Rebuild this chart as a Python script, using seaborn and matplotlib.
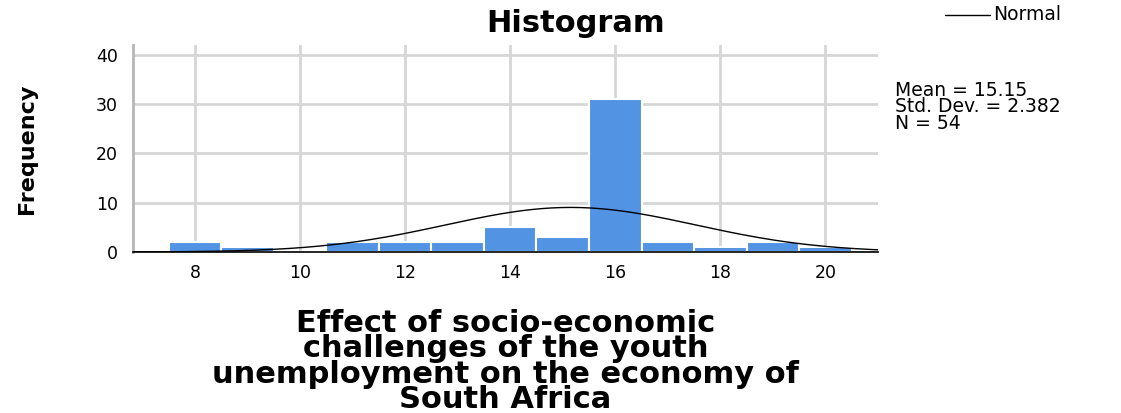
import numpy as np
import pandas as pd
import matplotlib
matplotlib.use("Agg")
import matplotlib.pyplot as plt
import seaborn as sns

# Data
bin_centers = [8, 9, 10, 11, 12, 13, 14, 15, 16, 17, 18, 19, 20]
counts = [2, 1, 0, 2, 2, 2, 5, 3, 31, 2, 1, 2, 1]
x_ticks = [8, 10, 12, 14, 16, 18, 20]
y_ticks = [0, 10, 20, 30, 40]
mean_val = 15.15
sd_val = 2.382
n_val = 54

title = "Histogram"
xlabel = "Effect of socio-economic\nchallenges of the youth\nunemployment on the economy of\nSouth Africa"
ylabel = "Frequency"
stats_lines = ["Mean = 15.15", "Std. Dev. = 2.382", "N = 54"]

sns.set_theme(style="white")
plt.rcParams['font.family'] = ['DejaVu Sans']
plt.rcParams['text.color'] = 'black'

fig = plt.figure(figsize=(11.21, 4.13), dpi=100)
ax = fig.add_axes([133 / 1121, 1 - 252 / 413, (878 - 133) / 1121, (252 - 45) / 413])

df = pd.DataFrame({"x": bin_centers, "w": counts})
sns.histplot(data=df, x="x", weights="w", discrete=True, ax=ax,
             color="#5393E3", alpha=1.0, edgecolor="white", linewidth=1.5, zorder=2)

# Normal curve from the stated mean / sd, scaled by N * bin width
xs = np.linspace(6.8, 21.0, 300)
ys = n_val * 1.0 / (sd_val * np.sqrt(2 * np.pi)) * np.exp(-0.5 * ((xs - mean_val) / sd_val) ** 2)
sns.lineplot(x=xs, y=ys, ax=ax, color="black", linewidth=1.0, zorder=3)

ax.set_xlim(6.82, 21.0)
ax.set_ylim(0, 42)
ax.set_xticks(x_ticks)
ax.set_yticks(y_ticks)
ax.grid(True, color="#d6d6d6", linewidth=2.0, zorder=0)
ax.set_axisbelow(True)
for s in ["top", "right"]:
    ax.spines[s].set_visible(False)
ax.spines["left"].set_color("#b5b5b5")
ax.spines["left"].set_linewidth(2.0)
ax.spines["bottom"].set_color("black")
ax.spines["bottom"].set_linewidth(1.2)
ax.tick_params(axis="both", length=0, labelsize=12.5, colors="black")
ax.tick_params(axis="y", pad=11)
ax.tick_params(axis="x", pad=9)

ax.set_title(title, fontsize=22, fontweight="bold", pad=9, x=(576 - 133) / 745, color="black")
ax.set_xlabel(xlabel, fontsize=22, fontweight="bold", linespacing=0.84, labelpad=19, color="black")
ax.set_ylabel(ylabel, fontsize=16, fontweight="bold", labelpad=42, color="black")

# Legend: Normal
fig.lines.append(plt.Line2D([945 / 1121, 990 / 1121], [1 - 15 / 413, 1 - 15 / 413],
                            transform=fig.transFigure, color="black", linewidth=1.0))
fig.text(993 / 1121, 1 - 15 / 413, "Normal", fontsize=13.5, va="center", ha="left")

fig.text(895 / 1121, 1 - 107 / 413, "\n".join(stats_lines), fontsize=13.5,
         va="center", ha="left", linespacing=0.85)

fig.savefig("out.png", dpi=100)
